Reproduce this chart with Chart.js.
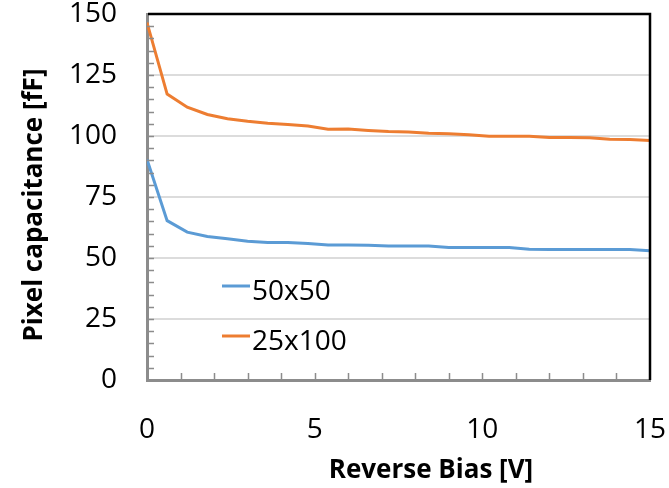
<!DOCTYPE html>
<html>
<head>
<meta charset="utf-8">
<script src="https://cdn.jsdelivr.net/npm/chart.js@4.4.1/dist/chart.umd.min.js"></script>
<style>
  html, body { margin: 0; padding: 0; background: #fff; }
</style>
</head>
<body>
<canvas id="capChart" width="669" height="488"></canvas>
<script>
// reverse bias steps [V]
const biasV = [0, 0.6, 1.2, 1.8, 2.4, 3.0, 3.6, 4.2, 4.8, 5.4, 6.0, 6.6, 7.2,
  7.8, 8.4, 9.0, 9.6, 10.2, 10.8, 11.4, 12.0, 12.6, 13.2, 13.8, 14.4, 15.0];
// pixel capacitance [fF]
const cap50x50 = [90.4, 65.3, 60.6, 58.8, 57.9, 56.9, 56.4, 56.4, 55.9, 55.3, 55.3, 55.2, 54.9,
  54.9, 54.9, 54.3, 54.3, 54.3, 54.3, 53.6, 53.5, 53.5, 53.5, 53.5, 53.5, 53.0];
const cap25x100 = [146.5, 117.2, 111.8, 108.8, 107.1, 106.0, 105.2, 104.7, 104.1, 102.8, 102.9, 102.3, 101.8,
  101.6, 101.1, 100.9, 100.5, 99.9, 99.9, 99.9, 99.4, 99.4, 99.3, 98.7, 98.6, 98.2];
const seriesNames = ['50x50', '25x100'];
const seriesColors = ['#5b9bd5', '#ed7d31'];
const xTitle = 'Reverse Bias [V]';
const yTitle = 'Pixel capacitance [fF]';

function toPoints(ys) {
  return biasV.map((v, i) => ({ x: v, y: ys[i] }));
}

const FONT = "'Open Sans', sans-serif";

// frame, minor ticks, axis titles and the legend inside the plot
const extrasPlugin = {
  id: 'extras',
  afterDraw(chart) {
    const ctx = chart.ctx;
    const a = chart.chartArea;
    const xs = chart.scales.x, ys = chart.scales.y;
    ctx.save();

    // minor ticks (inside)
    ctx.strokeStyle = '#8c8c8c';
    ctx.lineWidth = 1.5;
    ctx.beginPath();
    for (let v = 1; v < 15; v++) {
      const px = Math.round(xs.getPixelForValue(v)) + 0.5;
      ctx.moveTo(px, a.bottom);
      ctx.lineTo(px, a.bottom - 7);
    }
    for (let v = 5; v < 150; v += 5) {
      const py = Math.round(ys.getPixelForValue(v)) + 0.5;
      ctx.moveTo(a.left, py);
      ctx.lineTo(a.left + 7, py);
    }
    ctx.stroke();

    // top and right border
    ctx.strokeStyle = '#000';
    ctx.lineWidth = 2.5;
    ctx.beginPath();
    ctx.moveTo(a.left + 1, a.top);
    ctx.lineTo(a.right, a.top);
    ctx.lineTo(a.right, a.bottom);
    ctx.stroke();

    // axis titles
    ctx.fillStyle = '#000';
    ctx.font = 'bold 26px ' + FONT;
    ctx.textAlign = 'center';
    ctx.textBaseline = 'middle';
    ctx.fillText(xTitle, 431, 471);
    ctx.translate(35, 205);
    ctx.rotate(-Math.PI / 2);
    ctx.fillText(yTitle, 0, 0);
    ctx.setTransform(1, 0, 0, 1, 0, 0);

    // legend
    ctx.font = '28px ' + FONT;
    ctx.textAlign = 'left';
    ctx.textBaseline = 'alphabetic';
    chart.data.datasets.forEach((ds, i) => {
      const y = 286 + i * 50;
      ctx.strokeStyle = ds.borderColor;
      ctx.lineWidth = 3;
      ctx.beginPath();
      ctx.moveTo(222, y);
      ctx.lineTo(250, y);
      ctx.stroke();
      ctx.fillStyle = '#000';
      ctx.fillText(ds.label, 252, y + 14);
    });
    ctx.restore();
  }
};

new Chart(document.getElementById('capChart'), {
  type: 'line',
  data: {
    datasets: [
      { label: seriesNames[0], data: toPoints(cap50x50), borderColor: seriesColors[0] },
      { label: seriesNames[1], data: toPoints(cap25x100), borderColor: seriesColors[1] }
    ]
  },
  options: {
    responsive: false,
    animation: false,
    layout: { padding: { left: 0, top: 14, right: 19, bottom: 0 } },
    elements: {
      line: { borderWidth: 3, tension: 0, fill: false },
      point: { radius: 0 }
    },
    plugins: { legend: { display: false }, tooltip: { enabled: false } },
    scales: {
      x: {
        type: 'linear',
        min: 0, max: 15,
        ticks: { stepSize: 5, padding: 36, color: '#000', font: { family: FONT, size: 28, lineHeight: 1 } },
        grid: { display: false, drawTicks: false },
        border: { color: '#8c8c8c', width: 3 },
        afterFit(s) { s.height = 108; s.paddingLeft = 0; s.paddingRight = 0; }
      },
      y: {
        min: 0, max: 150,
        ticks: { stepSize: 25, padding: 30, color: '#000', font: { family: FONT, size: 28, lineHeight: 1 } },
        grid: { color: '#dcdcdc', lineWidth: 2, drawTicks: false },
        border: { color: '#8c8c8c', width: 3 },
        afterFit(s) { s.width = 147; s.paddingTop = 0; s.paddingBottom = 0; }
      }
    }
  },
  plugins: [extrasPlugin]
});
</script>
</body>
</html>
